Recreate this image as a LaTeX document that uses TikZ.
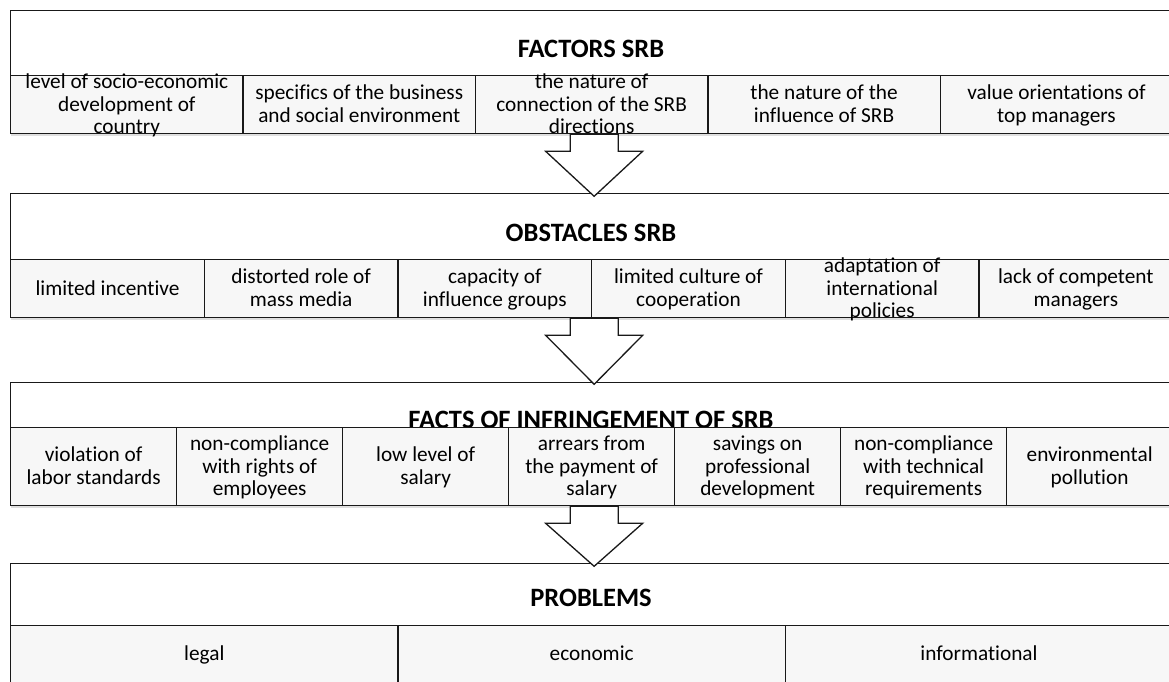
\documentclass[tikz,border=0pt]{standalone}
\usepackage{fontspec}
\setmainfont{Carlito}[Ligatures=CommonOff]
\usetikzlibrary{shadows}
\tikzset{
  lineframe/.style={draw=black!90, line width=1.3pt},
  hdr/.style={lineframe, fill=white, anchor=north west, inner sep=0pt, minimum width=1162pt},
  cellbox/.style={lineframe, fill=black!3, anchor=north west, inner sep=0pt,
    drop shadow={shadow xshift=0.6pt, shadow yshift=-2pt, opacity=0.25}},
  celltext/.style={align=center, inner sep=0pt, yshift=-2pt, font=\fontsize{21.3}{22.7}\selectfont},
  ttl/.style={anchor=base, inner sep=0pt, font=\fontsize{26.5}{30}\selectfont\bfseries},
  barrow/.style={lineframe, fill=white, line join=miter},
  pics/blockarrow/.style={code={
    \draw[barrow] (-21.5,0) -- (-21.5,17) -- (-46,17) -- (2.5,#1) -- (51,17) -- (26.5,17) -- (26.5,0) -- cycle;}}
}
\begin{document}
\begin{tikzpicture}[x=1pt,y=-1pt]
\useasboundingbox (0,0) rectangle (1169,682);

% ---- section 1
\node[hdr, minimum height=65pt] (h1) at (10,10) {};
\node[ttl] (t1) at (591,58) {FACTORS SRB};
\foreach \ct [count=\i from 0] in {{level of socio-economic\\development of\\country},{specifics of the business\\and social environment},{the nature of\\connection of the SRB\\directions},{the nature of the\\influence of SRB},{value orientations of\\top managers}}
  \node[cellbox, minimum width=232.4pt, minimum height=58pt, label={[celltext]center:\strut\ct\strut}] (f\i) at ({10+232.4*\i},75) {};

% ---- section 2
\node[hdr, minimum height=66pt] (h2) at (10,193) {};
\node[ttl] (t2) at (591,241) {OBSTACLES SRB};
\foreach \ct [count=\i from 0] in {{limited incentive},{distorted role of\\mass media},{capacity of\\influence groups},{limited culture of\\cooperation},{adaptation of\\international\\policies},{lack of competent\\managers}}
  \node[cellbox, minimum width=193.67pt, minimum height=58pt, label={[celltext]center:\strut\ct\strut}] (o\i) at ({10+193.67*\i},259) {};

% ---- section 3
\node[hdr, minimum height=45pt] (h3) at (10,382) {};
\node[ttl] (t3) at (591,428) {FACTS OF INFRINGEMENT OF SRB};
\foreach \ct [count=\i from 0] in {{violation of\\labor standards},{non-compliance\\with rights of\\employees},{low level of\\salary},{arrears from\\the payment of\\salary},{savings on\\professional\\development},{non-compliance\\with technical\\requirements},{environmental\\pollution}}
  \node[cellbox, minimum width=166pt, minimum height=78pt, label={[celltext]center:\strut\ct\strut}] (v\i) at ({10+166*\i},427) {};

% ---- section 4
\node[hdr, minimum height=62pt] (h4) at (10,563) {};
\node[ttl] (t4) at (591,606) {PROBLEMS};
\foreach \ct [count=\i from 0] in {{legal},{economic},{informational}}
  \node[cellbox, minimum width=387.33pt, minimum height=57pt, label={[celltext]center:\strut\ct\strut}] (p\i) at ({10+387.33*\i},625) {};

% ---- block arrows
\coordinate (a1) at (h1.center |- f2.south);
\coordinate (a2) at (h2.center |- o2.south);
\coordinate (a3) at (h3.center |- v3.south);
\pic at (a1) {blockarrow=62};
\pic at (a2) {blockarrow=66};
\pic at (a3) {blockarrow=60};
\end{tikzpicture}
\end{document}
